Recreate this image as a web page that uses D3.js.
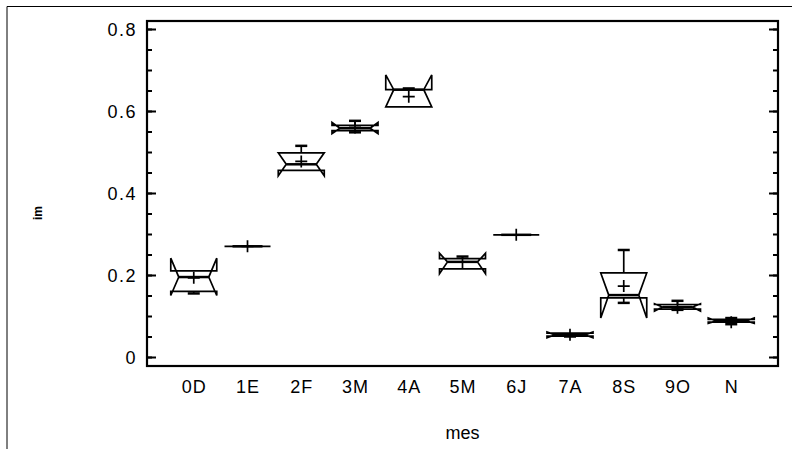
<!DOCTYPE html>
<html><head><meta charset="utf-8">
<script src="https://cdn.jsdelivr.net/npm/d3@7"></script>
<style>body{margin:0;background:#fff}svg{display:block}text{font-family:"Liberation Sans",Arial,sans-serif;fill:#000}</style>
</head><body><svg id="c" width="792" height="449"></svg>
<script>
const categories = ["0D","1E","2F","3M","4A","5M","6J","7A","8S","9O","N"];
const minV   = [0.155,0.270,0.455,0.548,0.610,0.215,0.298,0.050,0.132,0.115,0.080];
const q1V    = [0.160,0.270,0.455,0.552,0.610,0.215,0.298,0.051,0.144,0.117,0.085];
const medV   = [0.195,0.270,0.470,0.558,0.652,0.232,0.298,0.054,0.151,0.122,0.088];
const q3V    = [0.210,0.270,0.498,0.565,0.652,0.240,0.298,0.058,0.205,0.128,0.092];
const maxV   = [0.210,0.270,0.515,0.576,0.655,0.245,0.298,0.058,0.261,0.137,0.095];
const notchLo= [0.150,0.270,0.442,0.545,0.610,0.203,0.298,0.047,0.095,0.112,0.082];
const notchHi= [0.241,0.270,0.498,0.572,0.688,0.253,0.298,0.061,0.205,0.130,0.095];
const meanV  = [0.193,0.270,0.477,0.560,0.635,0.232,0.298,0.054,0.173,0.120,0.085];
const yTicks = [0,0.2,0.4,0.6,0.8];
const yLabel = "im";
const xLabel = "mes";

const svg = d3.select("#c");
const L=147,R=778,T=21,B=366;
const x = d3.scaleLinear().domain([-0.87,10.87]).range([L,R]);
const y = d3.scaleLinear().domain([-0.02195,0.8195]).range([B,T]);

svg.append("path").attr("d",`M7,449V6.5H792`).attr("fill","none").attr("stroke","#000").attr("stroke-width",1);

svg.append("rect").attr("x",L).attr("y",T).attr("width",R-L).attr("height",B-T)
  .attr("fill","none").attr("stroke","#000").attr("stroke-width",2.2);

const minor = d3.range(0,0.8001,0.05);
const gL = svg.append("g").attr("transform",`translate(${L},0)`)
  .call(d3.axisLeft(y).tickValues(minor).tickSize(-5).tickFormat(""));
const gL2 = svg.append("g").attr("transform",`translate(${L},0)`)
  .call(d3.axisLeft(y).tickValues(yTicks).tickSize(-9).tickPadding(10).tickFormat(d=>d===0?"0":d3.format(".1f")(d)));
const gR = svg.append("g").attr("transform",`translate(${R},0)`)
  .call(d3.axisRight(y).tickValues(minor).tickSize(-5).tickFormat(""));
const gR2 = svg.append("g").attr("transform",`translate(${R},0)`)
  .call(d3.axisRight(y).tickValues(yTicks).tickSize(-9).tickFormat(""));
[gL,gL2,gR,gR2].forEach(g=>{g.select(".domain").remove();g.selectAll("line").attr("stroke","#000").attr("stroke-width",2);});
gL2.selectAll("text").attr("font-size",18).attr("font-family","Liberation Sans, Arial, sans-serif").attr("letter-spacing","1.5px").attr("dy","0.36em");

const gB = svg.append("g").attr("transform",`translate(0,${B})`)
  .call(d3.axisBottom(x).tickValues(d3.range(categories.length)).tickSize(0).tickPadding(14).tickFormat(i=>categories[i]));
gB.select(".domain").remove();
gB.selectAll("text").attr("font-size",18).attr("font-family","Liberation Sans, Arial, sans-serif").attr("letter-spacing","1px");

svg.append("text").attr("x",(L+R)/2).attr("y",439).attr("text-anchor","middle").attr("font-size",18).text(xLabel);
svg.append("text").attr("transform","translate(42,213) rotate(-90)").attr("text-anchor","middle")
  .attr("font-size",12).attr("font-weight","bold").text(yLabel);

const hw=23, k=8, cap=6, pm=6;
const g = svg.append("g").attr("fill","none").attr("stroke","#000").attr("stroke-width",1.7);
categories.forEach((c,i)=>{
  const cx=x(i), l=cx-hw, r=cx+hw;
  const pts=[[l,y(q3V[i])],[l,y(notchHi[i])],[l+k,y(medV[i])],[l,y(notchLo[i])],[l,y(q1V[i])],
             [r,y(q1V[i])],[r,y(notchLo[i])],[r-k,y(medV[i])],[r,y(notchHi[i])],[r,y(q3V[i])]];
  g.append("path").attr("d","M"+pts.map(p=>p.join(",")).join("L")+"Z");
  g.append("line").attr("x1",l+k).attr("x2",r-k).attr("y1",y(medV[i])).attr("y2",y(medV[i])).attr("stroke-width",2.5);
  if(maxV[i]>q3V[i]){
    g.append("line").attr("x1",cx).attr("x2",cx).attr("y1",y(q3V[i])).attr("y2",y(maxV[i]));
    g.append("line").attr("x1",cx-cap).attr("x2",cx+cap).attr("y1",y(maxV[i])).attr("y2",y(maxV[i])).attr("stroke-width",2.5);
  }
  if(minV[i]<q1V[i]){
    g.append("line").attr("x1",cx).attr("x2",cx).attr("y1",y(q1V[i])).attr("y2",y(minV[i]));
    g.append("line").attr("x1",cx-cap).attr("x2",cx+cap).attr("y1",y(minV[i])).attr("y2",y(minV[i])).attr("stroke-width",2.5);
  }
  g.append("path").attr("d",`M${cx-pm},${y(meanV[i])}H${cx+pm}M${cx},${y(meanV[i])-pm}V${y(meanV[i])+pm}`);
});
</script></body></html>
